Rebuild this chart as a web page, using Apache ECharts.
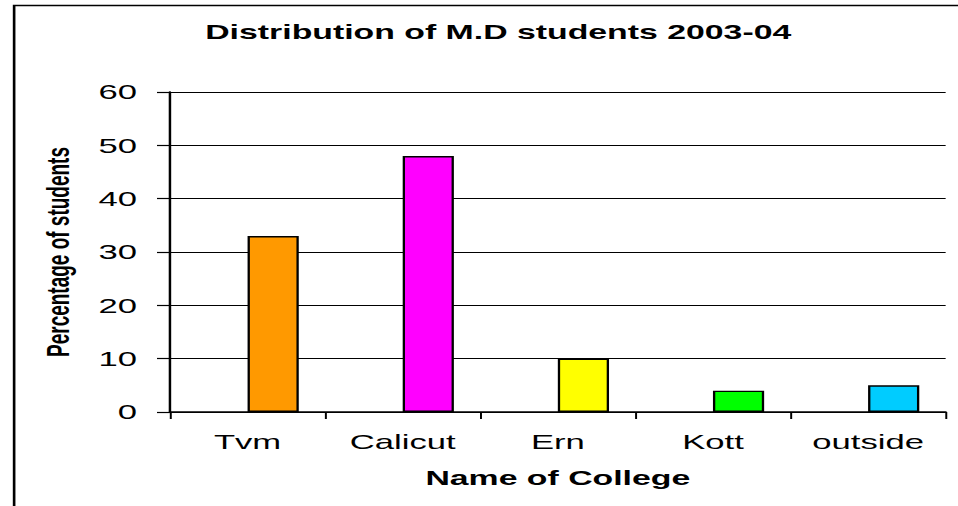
<!DOCTYPE html>
<html><head><meta charset="utf-8">
<script src="https://cdn.jsdelivr.net/npm/echarts@6/dist/echarts.min.js"></script>
<style>
html,body{margin:0;padding:0;background:#fff;overflow:hidden;width:958px;height:506px}
#c{height:506px;transform-origin:0 0}
</style>
</head><body><div id="c"></div>
<script>
const categories = ['Tvm', 'Calicut', 'Ern', 'Kott', 'outside'];
const percentages = [33, 48, 10, 4, 5];
const barColors = ['#FF9900', '#FF00FF', '#FFFF00', '#00FF00', '#00CCFF'];
const placeholder = [null, null, null, null, null];
const yTicks = [0, 10, 20, 30, 40, 50, 60];

// The reference is horizontally stretched; draw in a narrower box and stretch it.
const SX = 1.65;
const W = 958 / SX;
const el = document.getElementById('c');
el.style.width = W + 'px';
el.style.transform = 'scaleX(' + SX + ')';

const FONT = 'Liberation Sans, Arial, sans-serif';
const chart = echarts.init(el, null, { renderer: 'svg' });
chart.setOption({
  backgroundColor: '#fff',
  animation: false,
  graphic: [{
    type: 'rect', left: 10 / SX, top: 3,
    shape: { width: 1000, height: 600 },
    style: { fill: 'none', stroke: '#000', lineWidth: 1.6 }
  }],
  title: {
    text: 'Distribution of M.D students 2003-04',
    left: 490 / SX, top: 17, textAlign: 'center',
    textStyle: { fontFamily: FONT, fontWeight: 'bold', fontSize: 20.5, color: '#000' }
  },
  grid: { left: 170 / SX, right: W - 945 / SX, top: 92, bottom: 94, containLabel: false },
  xAxis: {
    type: 'category',
    data: categories,
    name: 'Name of College',
    nameLocation: 'middle',
    nameGap: 56,
    nameTextStyle: { fontFamily: FONT, fontWeight: 'bold', fontSize: 20.5, color: '#000' },
    axisLine: { lineStyle: { color: '#000', width: 1.5 } },
    axisTick: { show: true, length: 7, lineStyle: { color: '#000', width: 1.2 } },
    axisLabel: { fontFamily: FONT, fontSize: 21, color: '#000', margin: 19 }
  },
  yAxis: {
    type: 'value', min: yTicks[0], max: yTicks[yTicks.length - 1], interval: 10,
    name: 'Percentage of students',
    nameLocation: 'middle',
    nameGap: 58.5,
    nameRotate: 90,
    nameTextStyle: { fontFamily: FONT, fontWeight: 'bold', fontSize: 19, color: '#000' },
    axisLine: { show: true, lineStyle: { color: '#000', width: 1.5 } },
    axisTick: { show: true, length: 13 / SX, lineStyle: { color: '#000', width: 1.2 } },
    axisLabel: { fontFamily: FONT, fontSize: 21, color: '#000', margin: 33 / SX },
    splitLine: { show: true, lineStyle: { color: '#000', width: 1.2 } }
  },
  series: [
    { type: 'bar', name: 'blank', data: placeholder, barGap: '0%', barCategoryGap: '34%' },
    {
      type: 'bar', name: 'Percentage',
      data: percentages.map((v, i) => ({ value: v, itemStyle: { color: barColors[i] } })),
      barGap: '0%', barCategoryGap: '34%',
      itemStyle: { borderColor: '#000', borderWidth: 1.4 }
    }
  ]
});
</script></body></html>
